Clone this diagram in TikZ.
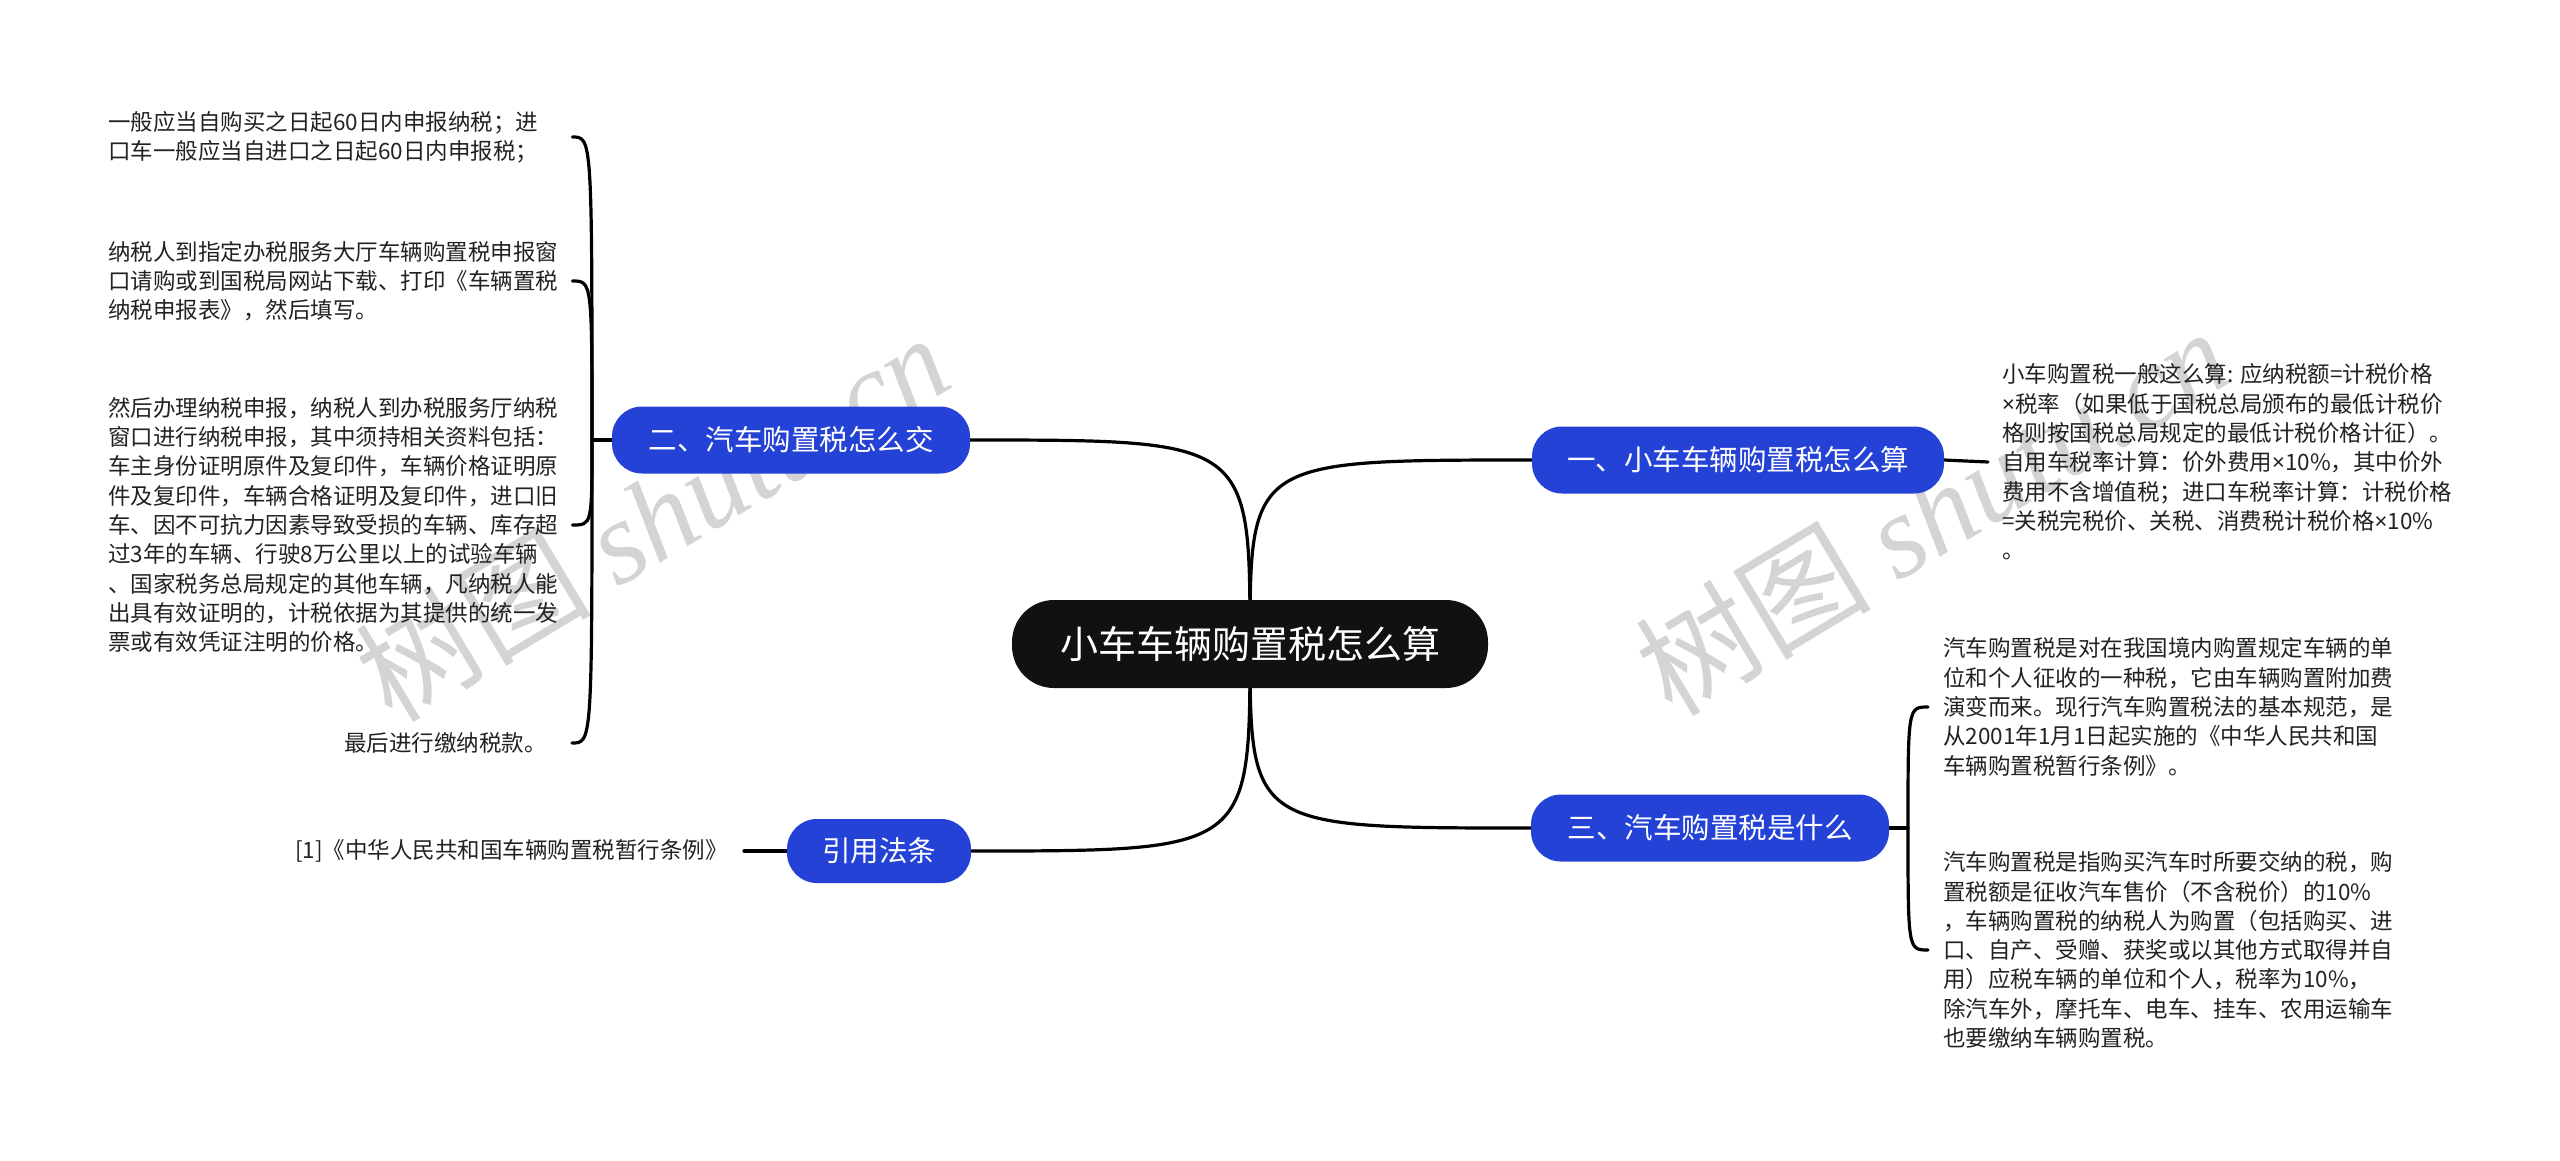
\documentclass[tikz,border=0pt]{standalone}
\usepackage{fontspec}
\setmainfont{Noto Sans CJK SC}
\newfontfamily\wmserif{Liberation Serif}
\newfontfamily\latinsans{Noto Sans}
\newcommand{\mtimes}{{\latinsans ×}}
\usetikzlibrary{backgrounds}
\definecolor{branchblue}{RGB}{37,66,214}
\definecolor{rootblack}{RGB}{17,17,17}
\definecolor{leaftext}{RGB}{34,34,34}
\definecolor{wmgray}{RGB}{212,212,212}
\begin{document}
\begin{tikzpicture}[x=1pt,y=-1pt,
  conn/.style={line width=3.2pt, black, line cap=round},
  rootnode/.style={fill=rootblack, text=white, rounded corners=42pt, minimum width=476pt, minimum height=88pt, font=\fontsize{38}{44}\selectfont, inner sep=0pt},
  branch/.style={fill=branchblue, text=white, rounded corners=30pt, minimum height=67pt, font=\fontsize{28.5}{34}\selectfont, inner sep=0pt},
  leaf/.style={text=leaftext, align=left, font=\fontsize{22.5}{29.3}\selectfont, inner ysep=0pt, inner xsep=0pt},
  watermark/.style={text=wmgray, rotate=31, font=\fontsize{118}{130}\selectfont, inner sep=0pt}
]
\useasboundingbox (0,0) rectangle (2560,1160);

% main nodes
\node[rootnode] (root) at (1250,644) {小车车辆购置税怎么算};
\node[branch, minimum width=412pt] (b1) at (1738,460) {一、小车车辆购置税怎么算};
\node[branch, minimum width=358pt] (b3) at (1710,828) {三、汽车购置税是什么};
\node[branch, minimum width=358pt] (b2) at (791,440) {二、汽车购置税怎么交};
\node[branch, minimum width=184pt, minimum height=64pt] (b4) at (879,851) {引用法条};

% right leaves
\node[leaf, anchor=west, inner xsep=14pt] (r1) at (1988,462) {小车购置税一般这么算: 应纳税额=计税价格\\\mtimes 税率（如果低于国税总局颁布的最低计税价\\格则按国税总局规定的最低计税价格计征）。\\自用车税率计算：价外费用\mtimes 10\%，其中价外\\费用不含增值税；进口车税率计算：计税价格\\=关税完税价、关税、消费税计税价格\mtimes 10\%\\。};
\node[leaf, anchor=west, inner xsep=15pt] (e) at (1928,707) {汽车购置税是对在我国境内购置规定车辆的单\\位和个人征收的一种税，它由车辆购置附加费\\演变而来。现行汽车购置税法的基本规范，是\\从2001年1月1日起实施的《中华人民共和国\\车辆购置税暂行条例》。};
\node[leaf, anchor=west, inner xsep=15pt] (f) at (1928,950) {汽车购置税是指购买汽车时所要交纳的税，购\\置税额是征收汽车售价（不含税价）的10\%\\，车辆购置税的纳税人为购置（包括购买、进\\口、自产、受赠、获奖或以其他方式取得并自\\用）应税车辆的单位和个人，税率为10\%，\\除汽车外，摩托车、电车、挂车、农用运输车\\也要缴纳车辆购置税。};

% left leaves
\node[leaf, anchor=east, inner xsep=16pt] (g) at (744,851) {[1]《中华人民共和国车辆购置税暂行条例》};
\node[leaf, anchor=west, text width=464pt] (la) at (108,137) {一般应当自购买之日起60日内申报纳税；进\\口车一般应当自进口之日起60日内申报税；};
\node[leaf, anchor=west, text width=464pt] (lb) at (108,281) {纳税人到指定办税服务大厅车辆购置税申报窗\\口请购或到国税局网站下载、打印《车辆置税\\纳税申报表》，然后填写。};
\node[leaf, anchor=west, text width=464pt] (lc) at (108,525) {然后办理纳税申报，纳税人到办税服务厅纳税\\窗口进行纳税申报，其中须持相关资料包括：\\车主身份证明原件及复印件，车辆价格证明原\\件及复印件，车辆合格证明及复印件，进口旧\\车、因不可抗力因素导致受损的车辆、库存超\\过3年的车辆、行驶8万公里以上的试验车辆\\、国家税务总局规定的其他车辆，凡纳税人能\\出具有效证明的，计税依据为其提供的统一发\\票或有效凭证注明的价格。};
\node[leaf, anchor=east, inner xsep=25pt] (ld) at (572,743) {最后进行缴纳税款。};

\coordinate (jl) at (592,440);
\coordinate (jr) at (1908,828);

\begin{pgfonlayer}{background}
  \fill[white] (0,0) rectangle (2560,1160);
  \node[watermark] (wm1) at (652,516) {树图 {\wmserif\itshape shutu.cn}};
  \node[watermark] (wm2) at (1932,510) {树图 {\wmserif\itshape shutu.cn}};
  % root to branches
  \draw[conn] (root.center) .. controls (root.center |- b1.west) .. (b1.west);
  \draw[conn] (root.center) .. controls (root.center |- b3.west) .. (b3.west);
  \draw[conn] (root.center) .. controls (root.center |- b2.east) .. (b2.east);
  \draw[conn] (root.center) .. controls (root.center |- b4.east) .. (b4.east);
  % branch to leaves
  \draw[conn] (b1.east) -- (r1.west);
  \draw[conn] (b4.west) -- (g.east);
  \draw[conn] (b2.west) -- (jl);
  \draw[conn] (jl) .. controls (jl |- la.east) .. (la.east);
  \draw[conn] (jl) .. controls (jl |- lb.east) .. (lb.east);
  \draw[conn] (jl) .. controls (jl |- lc.east) .. (lc.east);
  \draw[conn] (jl) .. controls (jl |- ld.east) .. (ld.east);
  \draw[conn] (b3.east) -- (jr);
  \draw[conn] (jr) .. controls (jr |- e.west) .. (e.west);
  \draw[conn] (jr) .. controls (jr |- f.west) .. (f.west);
\end{pgfonlayer}
\end{tikzpicture}
\end{document}
